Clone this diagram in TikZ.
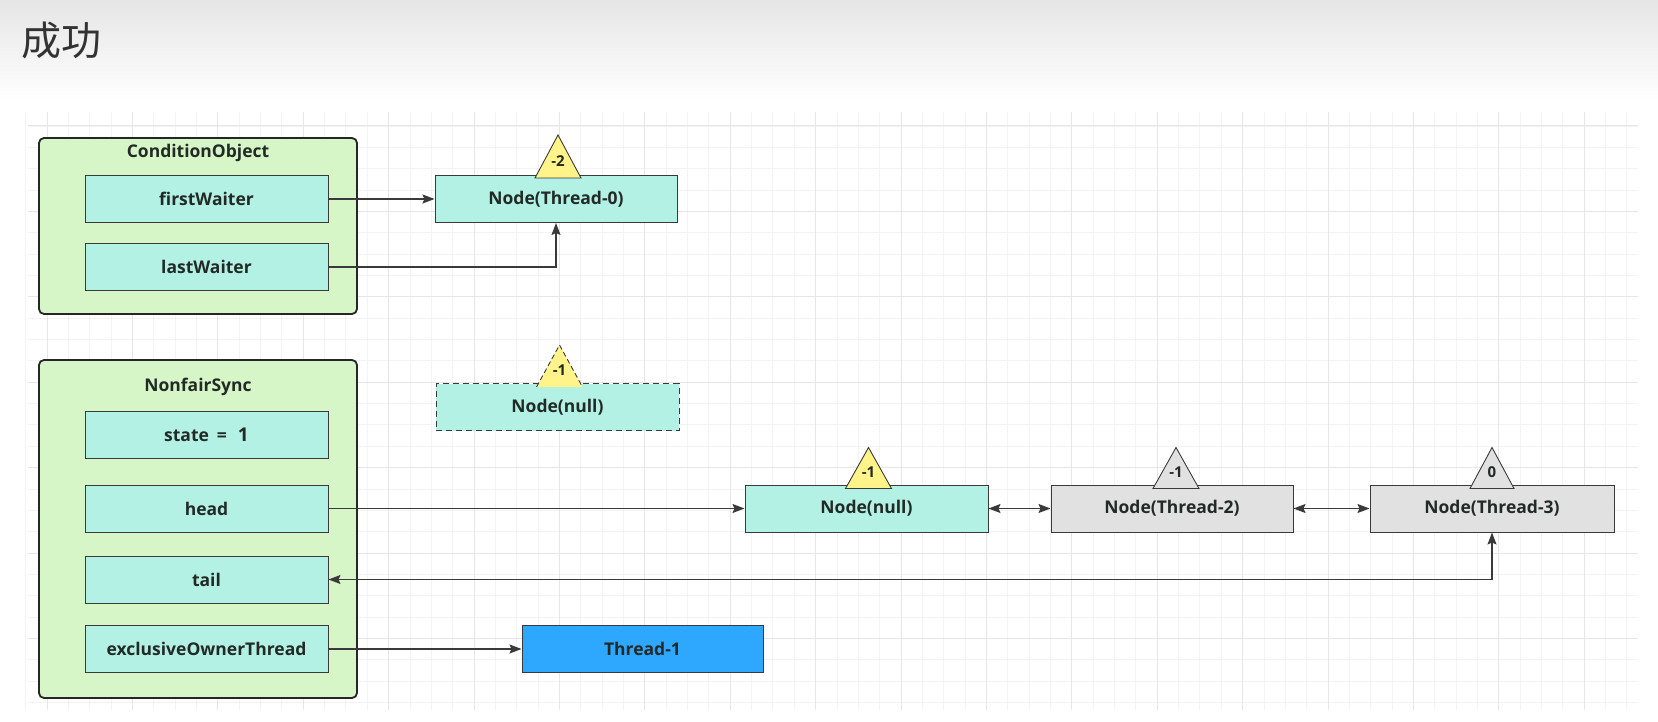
\documentclass[tikz,border=0pt]{standalone}
\usepackage{fontspec}
\setmainfont{Open Sans}
\newfontfamily\cjkfont{Noto Sans CJK SC}
\usetikzlibrary{arrows.meta,calc}

\definecolor{containerfill}{HTML}{D7F6C8}
\definecolor{fieldfill}{HTML}{B3F1E5}
\definecolor{greyfill}{HTML}{E1E1E1}
\definecolor{threadblue}{HTML}{2EA7FF}
\definecolor{triyellow}{HTML}{FFF38A}
\definecolor{edgegray}{HTML}{3A3A3A}
\definecolor{gridmajor}{HTML}{E6E6E6}
\definecolor{gridminor}{HTML}{F3F3F3}
\definecolor{textdark}{HTML}{222A26}

\tikzset{
  container/.style={draw=black!85, line width=1.8pt, rounded corners=5pt, fill=containerfill,
    minimum width=318pt, inner sep=0pt},
  boxtitle/.style={font=\fontsize{17.5}{20}\selectfont\bfseries, text=textdark, inner sep=0pt},
  field/.style={draw=edgegray, line width=1pt, fill=fieldfill, minimum width=243pt,
    minimum height=47pt, inner sep=0pt, font=\fontsize{17.5}{20}\selectfont\bfseries, text=textdark},
  greynode/.style={field, fill=greyfill},
  ghostnode/.style={field, dash pattern=on 6pt off 4pt},
  threadnode/.style={field, fill=threadblue, minimum width=241pt},
  tri/.style={draw=edgegray, line width=0.9pt, line join=miter},
  trilabel/.style={font=\fontsize{15}{17}\selectfont\bfseries, text=textdark, inner sep=0pt},
  conn/.style={draw=edgegray, line width=1.3pt, -{Stealth[length=12pt,width=9pt,inset=2pt]}},
  bothconn/.style={draw=edgegray, line width=1.3pt,
    {Stealth[length=12pt,width=9pt,inset=2pt]}-{Stealth[length=12pt,width=9pt,inset=2pt]}},
}

\begin{document}
\begin{tikzpicture}[x=1pt,y=-1pt]
\useasboundingbox (0,0) rectangle (1658,722);

% page background with the soft header band
\fill[white] (0,0) rectangle (1658,722);
\shade[top color=black!10, bottom color=white] (0,0) rectangle (1658,100);

% drawing grid
\foreach \i in {0,...,75}
  \draw[gridminor, line width=0.9pt] ({25.65+\i*21.35},112) -- ++(0,598);
\foreach \j in {0,...,27}
  \draw[gridminor, line width=0.9pt] (28,{126+\j*21.35}) -- (1638,{126+\j*21.35});
\foreach \i in {0,...,18}
  \draw[gridmajor, line width=1pt] ({47+\i*85.4},112) -- ++(0,598);
\foreach \j in {0,...,6}
  \draw[gridmajor, line width=1pt] (28,{126+\j*85.4}) -- (1638,{126+\j*85.4});

% heading
\node[font=\cjkfont\fontsize{40}{44}\selectfont, text=black!80, anchor=west, inner sep=0pt]
  (heading) at (21,40) {成功};

% ConditionObject
\node[container, minimum height=176pt] (cond) at (198,226) {};
\node[boxtitle] (condtitle) at (198,153) {ConditionObject};
\node[field] (fw) at (206.5,199) {firstWaiter};
\node[field] (lw) at (206.5,267) {lastWaiter};

% NonfairSync
\node[container, minimum height=338pt] (sync) at (198,529) {};
\node[boxtitle] (synctitle) at (198,387) {NonfairSync};
\node[field] (state) at (206.5,434.5) {state\hspace{8pt}=\hspace{11pt}{\fontsize{19}{21}\selectfont 1}};
\node[field] (head) at (206.5,508.5) {head};
\node[field] (tail) at (206.5,579.5) {tail};
\node[field] (owner) at (206.5,649) {exclusiveOwnerThread};

% condition queue
\node[field, minimum width=242pt] (n0) at (556,199) {Node(Thread-0)};
\draw[tri, fill=triyellow] ($(n0.north)+(-21,3)$) -- ++(23,-43) -- ++(23,43) -- cycle;
\node[trilabel] (n0w) at ($(n0.north)+(2,-14)$) {-2};

% detached node
\node[ghostnode] (ghost) at (557.5,407) {Node(null)};
\draw[tri, fill=triyellow, dash pattern=on 5pt off 3pt] ($(ghost.north)+(-21,4)$) -- ++(23,-42) -- ++(23,42);
\node[trilabel] (ghostw) at ($(ghost.north)+(2,-13)$) {-1};

% sync queue
\node[field] (n1) at (866.5,508.5) {Node(null)};
\node[greynode, minimum width=242pt] (n2) at (1172,508.5) {Node(Thread-2)};
\node[greynode, minimum width=244pt] (n3) at (1492,508.5) {Node(Thread-3)};
\draw[tri, fill=triyellow] ($(n1.north)+(-21,4)$) -- ++(23,-41) -- ++(23,41) -- cycle;
\node[trilabel] (n1w) at ($(n1.north)+(2,-12)$) {-1};
\draw[tri, fill=greyfill] ($(n2.north)+(-19,4)$) -- ++(23,-41) -- ++(23,41) -- cycle;
\node[trilabel] (n2w) at ($(n2.north)+(4,-12)$) {-1};
\draw[tri, fill=greyfill] ($(n3.north)+(-22,4)$) -- ++(22,-41) -- ++(22,41) -- cycle;
\node[trilabel] (n3w) at ($(n3.north)+(0,-12)$) {0};

% owner thread
\node[threadnode] (t1) at (642.5,649) {Thread-1};

% references
\draw[conn] (fw.east) -- (n0.west);
\draw[conn] (lw.east) -| (n0.south);
\draw[conn] (head.east) -- (n1.west);
\draw[bothconn] (n1.east) -- (n2.west);
\draw[bothconn] (n2.east) -- (n3.west);
\draw[bothconn] (n3.south) |- (tail.east);
\draw[conn] (owner.east) -- (t1.west);
\end{tikzpicture}
\end{document}
